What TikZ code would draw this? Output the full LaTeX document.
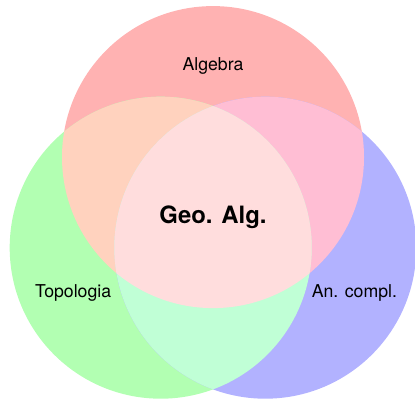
\documentclass[tikz,border=0pt]{standalone}
\usepackage{fontspec}
\setmainfont{TeX Gyre Heros}
\definecolor{cR}{RGB}{255,178,178}
\definecolor{cG}{RGB}{178,255,178}
\definecolor{cB}{RGB}{178,178,255}
\definecolor{cRG}{RGB}{255,210,190}
\definecolor{cRB}{RGB}{255,190,212}
\definecolor{cGB}{RGB}{192,255,214}
\definecolor{cRGB}{RGB}{255,221,221}
\tikzset{
  setlabel/.style={font=\fontsize{10}{12}\selectfont, inner sep=0pt},
  corelabel/.style={font=\fontsize{13.5}{16}\selectfont\bfseries, inner sep=0pt}
}
\begin{document}
\begin{tikzpicture}
\useasboundingbox (-4.232,-3.626) rectangle (4.013,4.321);
\coordinate (R) at (90:1.2);
\coordinate (G) at (210:1.2);
\coordinate (B) at (330:1.2);
\fill[cR] (R) circle (3);
\fill[cG] (G) circle (3);
\fill[cB] (B) circle (3);
\begin{scope}
  \clip (R) circle (3);
  \fill[cRG] (G) circle (3);
  \fill[cRB] (B) circle (3);
\end{scope}
\begin{scope}
  \clip (G) circle (3);
  \fill[cGB] (B) circle (3);
\end{scope}
\begin{scope}
  \clip (R) circle (3);
  \clip (G) circle (3);
  \fill[cRGB] (B) circle (3);
\end{scope}
\node[setlabel] (alg) at (0,3.01) {Algebra};
\node[setlabel] (top) at (-2.78,-1.49) {Topologia};
\node[setlabel] (anc) at (2.81,-1.5) {An. compl.};
\node[corelabel] (geo) at (0,0) {Geo. Alg.};
\end{tikzpicture}
\end{document}
